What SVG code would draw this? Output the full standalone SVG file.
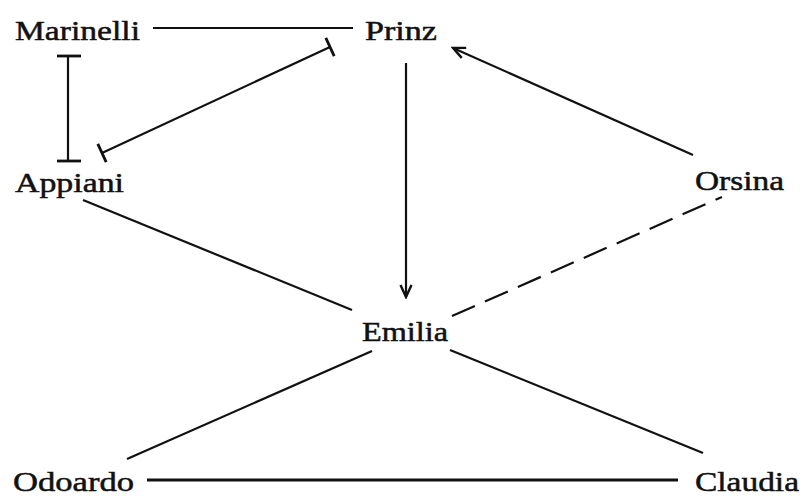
<svg xmlns="http://www.w3.org/2000/svg" width="803" height="496" viewBox="0 0 803 496">
  <style>
    .lbl { font-family: "Liberation Serif", "Times New Roman", serif; font-size: 28px; fill: #111; stroke: #111; stroke-width: 0.5; }
    .edge { stroke: #111; stroke-width: 2.2; fill: none; stroke-linecap: butt; }
    .thick { stroke-width: 2.8; }
    .dash { stroke-dasharray: 25 11; }
    .bar { stroke: #111; stroke-width: 2.8; fill: none; }
  </style>
  <defs>
    <marker id="arrow" markerUnits="userSpaceOnUse" markerWidth="16" markerHeight="14" viewBox="0 0 16 14" refX="14" refY="7" orient="auto">
      <path d="M2,1.5 L14,7 L2,12.5" fill="none" stroke="#111" stroke-width="2.4"/>
    </marker>
  </defs>
  <rect width="803" height="496" fill="#fff"/>

  <g id="connectors">
    <line class="edge" x1="153" y1="28" x2="353" y2="28"/>
    <g id="marinelli-appiani">
      <line class="edge" x1="68" y1="56" x2="68" y2="161"/>
      <line class="bar" x1="57" y1="56" x2="81" y2="56"/>
      <line class="bar" x1="57" y1="161" x2="81" y2="161"/>
    </g>
    <g id="prinz-appiani">
      <line class="edge" x1="102" y1="153" x2="330" y2="47"/>
      <line class="bar" x1="325.8" y1="37.9" x2="334.2" y2="56.1"/>
      <line class="bar" x1="97.8" y1="143.9" x2="106.2" y2="162.1"/>
    </g>
    <line class="edge" x1="406" y1="63" x2="406" y2="297" marker-end="url(#arrow)"/>
    <line class="edge" x1="693" y1="155" x2="453" y2="48" marker-end="url(#arrow)"/>
    <line class="edge dash" x1="452" y1="316" x2="722" y2="197"/>
    <line class="edge" x1="83" y1="200" x2="352" y2="310"/>
    <line class="edge" x1="372" y1="351" x2="127" y2="459"/>
    <line class="edge" x1="450" y1="350" x2="703" y2="453"/>
    <line class="edge thick" x1="147" y1="480" x2="678" y2="480"/>
  </g>

  <g id="marinelli"><text class="lbl" x="15" y="40" textLength="125" lengthAdjust="spacingAndGlyphs">Marinelli</text></g>
  <g id="prinz"><text class="lbl" x="365" y="40" textLength="72" lengthAdjust="spacingAndGlyphs">Prinz</text></g>
  <g id="appiani"><text class="lbl" x="15" y="192" textLength="109" lengthAdjust="spacingAndGlyphs">Appiani</text></g>
  <g id="orsina"><text class="lbl" x="695" y="190" textLength="89" lengthAdjust="spacingAndGlyphs">Orsina</text></g>
  <g id="emilia"><text class="lbl" x="362" y="341" textLength="86" lengthAdjust="spacingAndGlyphs">Emilia</text></g>
  <g id="odoardo"><text class="lbl" x="13" y="491" textLength="121" lengthAdjust="spacingAndGlyphs">Odoardo</text></g>
  <g id="claudia"><text class="lbl" x="695" y="491" textLength="104" lengthAdjust="spacingAndGlyphs">Claudia</text></g>
</svg>
